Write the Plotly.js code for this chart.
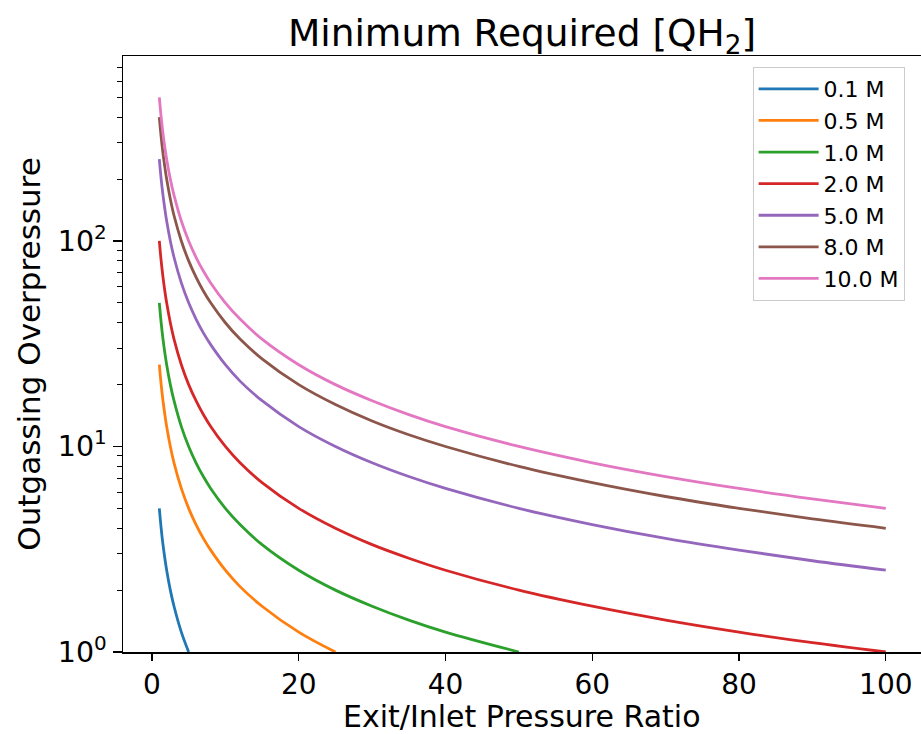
<!DOCTYPE html>
<html>
<head>
<meta charset="utf-8">
<script src="https://cdn.plot.ly/plotly-3.0.1.min.js"></script>
<style>html,body{margin:0;padding:0;background:#fff;}#chart{width:921px;height:734px;}</style>
</head>
<body>
<div id="chart"></div>
<script>
// Exit/Inlet pressure ratio samples
const ratio = [1, 1.25, 1.5, 1.75, 2, 2.5, 3, 4, 5, 6, 7, 8, 10, 12, 15, 20, 25, 30, 35, 40, 50, 60, 70, 80, 90, 100];
const seriesNames = ["0.1 M", "0.5 M", "1.0 M", "2.0 M", "5.0 M", "8.0 M", "10.0 M"];
const seriesColors = ["#1f77b4", "#ff7f0e", "#2ca02c", "#d62728", "#9467bd", "#8c564b", "#e377c2"];

const s01 = [5, 4, 3.33, 2.86, 2.5, 2.0, 1.67, 1.25, 1.0];
const s05 = [25, 20, 16.7, 14.3, 12.5, 10, 8.33, 6.25, 5, 4.17, 3.57, 3.13, 2.5, 2.08, 1.67, 1.25, 1.0];
const s10 = [50, 40, 33.3, 28.6, 25, 20, 16.7, 12.5, 10, 8.33, 7.14, 6.25, 5, 4.17, 3.33, 2.5, 2.0, 1.67, 1.43, 1.25, 1.0];
const s20 = [100, 80, 66.7, 57.1, 50, 40, 33.3, 25, 20, 16.7, 14.3, 12.5, 10, 8.33, 6.67, 5, 4, 3.33, 2.86, 2.5, 2.0, 1.67, 1.43, 1.25, 1.11, 1.0];
const s50 = [250, 200, 167, 143, 125, 100, 83.3, 62.5, 50, 41.7, 35.7, 31.3, 25, 20.8, 16.7, 12.5, 10, 8.33, 7.14, 6.25, 5, 4.17, 3.57, 3.13, 2.78, 2.5];
const s80 = [400, 320, 267, 229, 200, 160, 133, 100, 80, 66.7, 57.1, 50, 40, 33.3, 26.7, 20, 16, 13.3, 11.4, 10, 8, 6.67, 5.71, 5, 4.44, 4.0];
const s100 = [500, 400, 333, 286, 250, 200, 167, 125, 100, 83.3, 71.4, 62.5, 50, 41.7, 33.3, 25, 20, 16.7, 14.3, 12.5, 10, 8.33, 7.14, 6.25, 5.56, 5.0];

const xTitle = "Exit/Inlet Pressure Ratio";
const yTitle = "Outgassing Overpressure";
const yTickVals = [1, 10, 100];
const yTickText = ["10<sup>0</sup>", "10<sup>1</sup>", "10<sup>2</sup>"];
const xTickVals = [0, 20, 40, 60, 80, 100];
const yMinorVals = [2,3,4,5,6,7,8,9,20,30,40,50,60,70,80,90,200,300,400,500,600,700];

const allSeries = [s01, s05, s10, s20, s50, s80, s100];
const traces = allSeries.map((ys, i) => ({
  x: ratio.slice(0, ys.length),
  y: ys,
  type: "scatter",
  mode: "lines",
  name: seriesNames[i],
  legendgroup: "g" + i,
  line: {color: seriesColors[i], width: 2.8, shape: "spline", smoothing: 1}
}));

const font = "DejaVu Sans, sans-serif";
const layout = {
  width: 921, height: 734,
  margin: {l: 123, r: 0, t: 56, b: 82},
  paper_bgcolor: "#fff", plot_bgcolor: "#fff",
  font: {family: font, color: "#000"},
  title: {text: "Minimum Required [QH<sub>2</sub>]", font: {size: 37.5, family: font, color: "#000"},
          x: 0.5, xref: "paper", xanchor: "center", y: 0.955, yref: "container", yanchor: "middle"},
  showlegend: true,
  legend: {x: 0.789, y: 0.9815, xanchor: "left", yanchor: "top",
           bgcolor: "rgba(255,255,255,0.8)", bordercolor: "#cccccc", borderwidth: 1,
           font: {size: 22, family: font, color: "#000"}, tracegroupgap: 8, traceorder: "normal",
           itemwidth: 60},
  xaxis: {
    range: [-3.95, 104.8], showgrid: false, zeroline: false,
    showline: true, linecolor: "#000", linewidth: 1.5, mirror: true,
    ticks: "outside", ticklen: 7, tickwidth: 1.3, tickcolor: "#000",
    tickvals: xTickVals, tickfont: {size: 28, family: font}
  },
  yaxis: {
    type: "log", range: [0, 2.9], showgrid: false, zeroline: false,
    showline: true, linecolor: "#000", linewidth: 1.5, mirror: true,
    ticks: "outside", ticklen: 9, tickwidth: 1.3, tickcolor: "#000",
    tickvals: yTickVals, ticktext: yTickText, tickfont: {size: 28.5, family: font},
    minor: {tickvals: yMinorVals, ticks: "outside", ticklen: 5, tickwidth: 1, tickcolor: "#000", showgrid: false},
    title: {text: yTitle, font: {size: 31, family: font}, standoff: 8}
  },
  annotations: [{
    text: xTitle, xref: "paper", yref: "paper", x: 0.5, y: (652 - 716) / 596,
    xanchor: "center", yanchor: "middle", showarrow: false,
    font: {size: 30, family: font, color: "#000"}
  }]
};

Plotly.newPlot("chart", traces, layout, {displayModeBar: false, staticPlot: true});
</script>
</body>
</html>
